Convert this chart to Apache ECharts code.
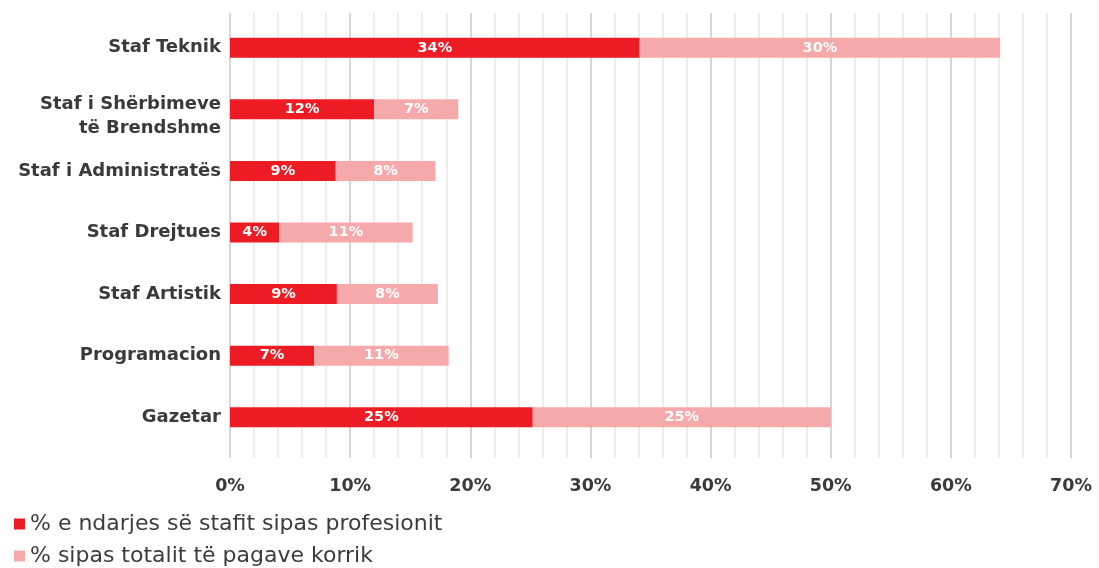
<!DOCTYPE html>
<html><head><meta charset="utf-8">
<script src="https://cdn.jsdelivr.net/npm/echarts@6/dist/echarts.min.js"></script>
<style>html,body{margin:0;padding:0;background:#fff}#c{width:1099px;height:568px}</style>
</head><body><div id="c"></div>
<script>
const categories = ['Staf Teknik','Staf i Shërbimeve\ntë Brendshme','Staf i Administratës','Staf Drejtues','Staf Artistik','Programacion','Gazetar'];
const seriesNames = ['% e ndarjes së stafit sipas profesionit','% sipas totalit të pagave korrik'];
const staffShare = [34.1, 12.0, 8.8, 4.1, 8.9, 7.0, 25.2];
const wageShare = [30.0, 7.0, 8.3, 11.1, 8.4, 11.2, 24.8];
const tickMin = 0, tickMax = 70, tickStep = 10;

const chart = echarts.init(document.getElementById('c'));
const font = 'DejaVu Sans';
const lbl = {show:true, position:'inside', color:'#fff', fontFamily:font, fontWeight:'bold', fontSize:14.5,
  formatter: p => Math.round(p.value) + '%'};
const legendText = {fontFamily:font, fontSize:22, color:'#3c3c3c', fontWeight:'normal'};
const catStyle = {color:'#3a3a3a', fontFamily:font, fontWeight:'bold', fontSize:18, lineHeight:24, align:'right'};
chart.setOption({
  animation:false,
  legend:[
    {orient:'vertical', left:9, top:508, itemWidth:11, itemHeight:11, icon:'rect', itemGap:0,
      textStyle:legendText, data:[seriesNames[0]]},
    {orient:'vertical', left:9, top:540, itemWidth:11, itemHeight:11, icon:'rect', itemGap:0,
      textStyle:legendText, data:[seriesNames[1]]}
  ],
  grid:[
    {left:230, right:28, top:17, bottom:120},
    {left:230, right:28, top:13, bottom:110}
  ],
  xAxis:[
    {gridIndex:0, type:'value', min:tickMin, max:tickMax, interval:tickStep, show:false},
    {gridIndex:1, type:'value', min:tickMin, max:tickMax, interval:tickStep,
      axisLine:{show:false}, axisTick:{show:false},
      axisLabel:{formatter:'{value}%', margin:19, color:'#3a3a3a', fontFamily:font, fontWeight:'bold', fontSize:17.5},
      splitLine:{show:true, lineStyle:{color:'#c8c8c8', width:1.5}},
      minorTick:{show:false, splitNumber:5},
      minorSplitLine:{show:true, lineStyle:{color:'#e8e8e8', width:1.5}}}
  ],
  yAxis:[
    {gridIndex:0, type:'category', data:categories, inverse:true,
      axisLine:{show:false}, axisTick:{show:false},
      axisLabel:{margin:9, align:'right',
        formatter: v => v.indexOf('\n') >= 0
          ? '{s| }\n' + v.split('\n').map(t => '{a|' + t + '}').join('\n')
          : '{a|' + v + '}',
        rich:{a:catStyle, s:{fontSize:8, lineHeight:13}}}},
    {gridIndex:1, type:'category', data:[], show:false}
  ],
  series:[
    {name:seriesNames[0], type:'bar', stack:'s', xAxisIndex:0, yAxisIndex:0, data:staffShare, barWidth:20,
      itemStyle:{color:'#ED1C24'}, label:lbl},
    {name:seriesNames[1], type:'bar', stack:'s', xAxisIndex:0, yAxisIndex:0, data:wageShare, barWidth:20,
      itemStyle:{color:'#F6A9AB'}, label:lbl}
  ]
});
</script></body></html>
